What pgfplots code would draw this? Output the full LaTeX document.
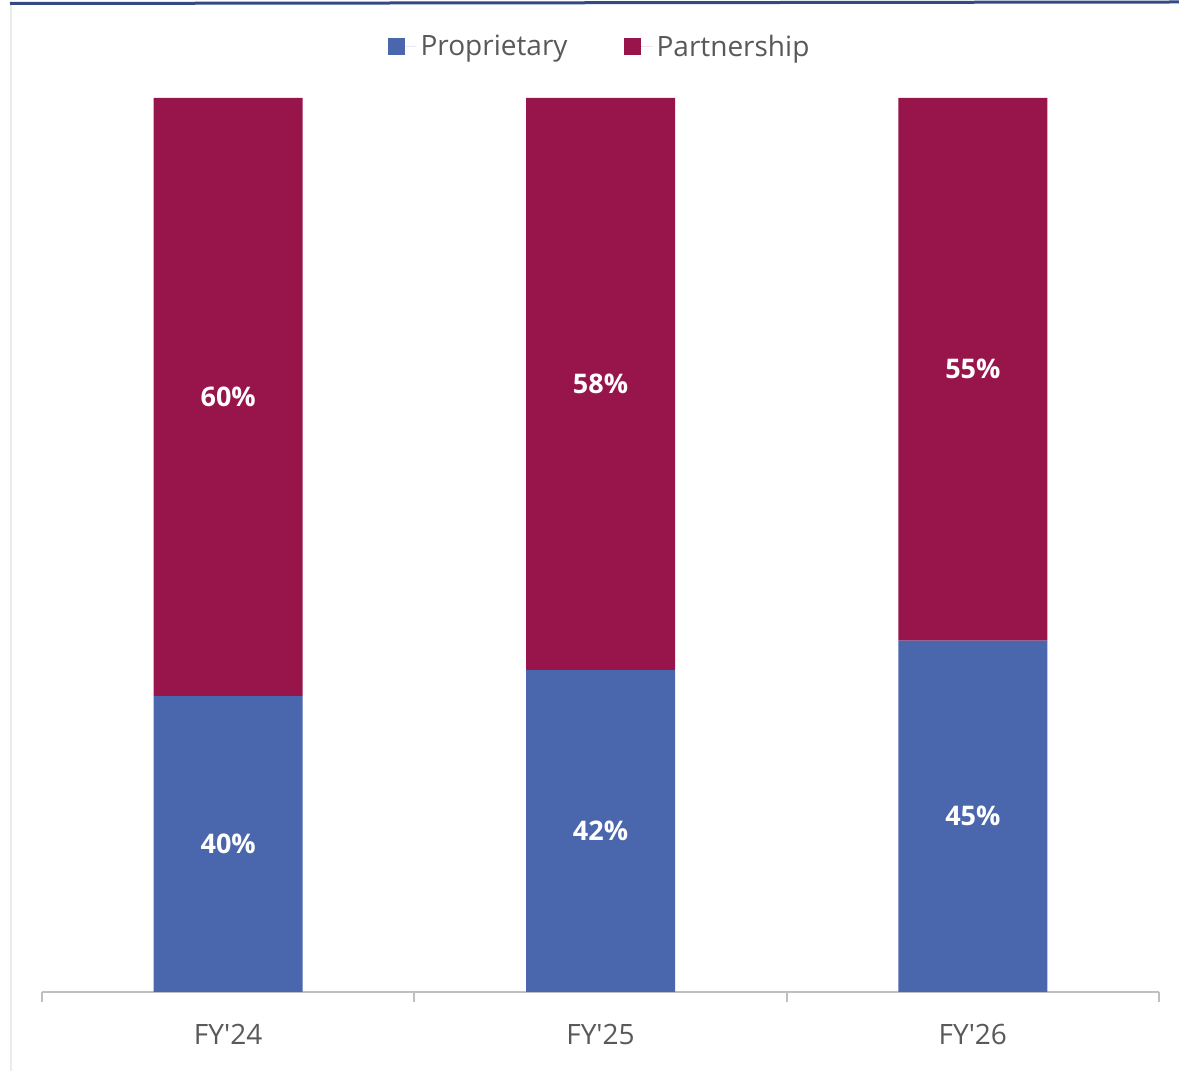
\documentclass[border=0pt]{standalone}
\usepackage{fontspec}
\setmainfont{Open Sans}[Ligatures=TeXOff]
\usepackage{pgfplots}
\usepackage{pgfplotstable}
\pgfplotsset{compat=1.18}
\definecolor{propblue}{RGB}{74,103,174}
\definecolor{partred}{RGB}{152,21,75}
\definecolor{txtgrey}{RGB}{89,89,89}
\definecolor{axgrey}{RGB}{191,191,191}
\definecolor{topline}{RGB}{52,74,130}
\tikzset{lbl/.style={font=\bfseries\fontsize{13.5}{15}\selectfont, text=white, anchor=center}}
\pgfplotstableread{
x v
0 33.1
1 36.0
2 39.3
}\proptab
\pgfplotstableread{
x v
0 66.9
1 64.0
2 60.7
}\parttab
\begin{document}
\begin{tikzpicture}
\useasboundingbox (0pt,0pt) rectangle (589.5pt,535.5pt);
\fill[white] (0pt,0pt) rectangle (589.5pt,535.5pt);
\draw[line width=1.5pt, topline] (5pt,533.75pt) -- (589.5pt,534.5pt);
\draw[line width=1pt, black!8] (5.5pt,0pt) -- (5.5pt,533pt);
\begin{axis}[
  at={(21pt,39.5pt)}, anchor=south west,
  scale only axis,
  width=558.5pt, height=447pt,
  ybar stacked,
  bar width=74.5pt,
  xmin=-0.5, xmax=2.5,
  ymin=0, ymax=100,
  axis y line=none,
  axis x line*=bottom,
  x axis line style={axgrey, line width=1pt, -},
  xtick={0,1,2},
  xticklabels={FY'24,FY'25,FY'26},
  major tick length=0pt,
  minor xtick={-0.5,0.5,1.5,2.5},
  minor tick length=5pt,
  tick align=outside,
  minor tick style={axgrey, line width=1pt},
  xticklabel style={font=\fontsize{14}{16}\selectfont, text=txtgrey, anchor=center, yshift=-21pt},
  legend style={draw=none, fill=none, at={(0.5,1)}, anchor=center, yshift=25.5pt,
    font=\fontsize{14}{16}\selectfont, text=txtgrey, legend columns=2,
    /tikz/every even column/.append style={column sep=26pt}},
  legend image code/.code={\path (0pt,0pt) -- (14.5pt,0pt);\fill[#1,draw=none] (0pt,-4.25pt) rectangle (8.5pt,4.25pt);},
  clip=false,
]
\addplot[fill=propblue, draw=none] table[x=x, y=v] {\proptab};
\addlegendentry{Proprietary}
\addplot[fill=partred, draw=none] table[x=x, y=v] {\parttab};
\addlegendentry{Partnership}
\coordinate (b0) at (axis cs:0,16.55);
\coordinate (b1) at (axis cs:1,18.0);
\coordinate (b2) at (axis cs:2,19.65);
\coordinate (r0) at (axis cs:0,66.55);
\coordinate (r1) at (axis cs:1,68.0);
\coordinate (r2) at (axis cs:2,69.65);
\end{axis}
\node[lbl] at (b0) {40\%};
\node[lbl] at (b1) {42\%};
\node[lbl] at (b2) {45\%};
\node[lbl] at (r0) {60\%};
\node[lbl] at (r1) {58\%};
\node[lbl] at (r2) {55\%};
\end{tikzpicture}
\end{document}
